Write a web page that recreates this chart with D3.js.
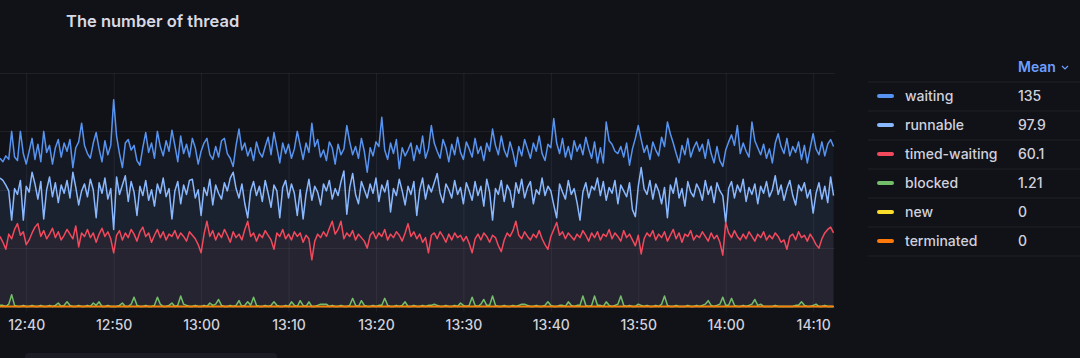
<!DOCTYPE html>
<html>
<head>
<meta charset="utf-8">
<script src="https://cdn.jsdelivr.net/npm/d3@7"></script>
<style>
  body { margin: 0; background: #111217; }
  svg { display: block; font-family: Inter, "Noto Sans", sans-serif; }
</style>
</head>
<body>
<script>
// series names, colors and the legend means
let seriesNames = ["waiting", "runnable", "timed-waiting", "blocked", "new", "terminated"]
let seriesColors = ["#5794f2", "#8ab8ff", "#f2495c", "#73bf69", "#fade2a", "#ff780a"]
let meanLabels = ["135", "97.9", "60.1", "1.21", "0", "0"]

// x ticks
let tickLabels = ["12:40", "12:50", "13:00", "13:10", "13:20", "13:30", "13:40", "13:50", "14:00", "14:10"]
let yTicks = [0, 50, 100, 150, 200]

// samples every 20s starting at 12:37:00
let startTime = "12:37:00"
let stepSeconds = 20

let waiting = [
  127,124,129,126,150,128,125,150,131,122,
  133,144,126,139,124,150,132,138,122,136,
  143,128,140,133,143,119,136,141,157,138,
  131,127,140,149,135,124,142,130,138,177,
  146,131,119,140,143,134,138,125,121,136,
  149,132,140,127,150,137,129,142,133,151,
  138,124,146,131,139,128,144,136,122,133,
  140,144,130,126,137,128,142,144,131,127,
  120,138,152,134,140,129,136,125,141,132,
  128,137,145,130,149,136,123,140,131,139,
  127,135,150,138,126,140,132,157,137,143,
  128,134,125,141,136,122,139,130,135,155,
  141,130,137,127,144,133,115,136,129,141,
  137,162,134,126,140,131,143,118,136,129,
  134,140,125,138,131,146,127,135,155,140,
  133,127,143,136,124,139,130,145,132,126,
  141,135,128,144,131,137,125,140,133,152,
  138,130,146,134,128,141,132,120,137,129,
  143,135,127,140,133,146,131,125,139,136,
  161,140,131,144,128,137,126,142,133,139,
  130,145,135,127,141,123,136,123,158,142,
  139,133,131,137,128,140,121,135,144,155,
  143,132,138,126,141,134,129,145,137,158,
  148,140,131,123,138,130,144,128,136,141,
  133,139,127,143,131,123,137,125,120,134,
  141,147,138,155,131,140,133,128,158,142,
  136,130,139,127,135,123,140,148,137,131,
  144,129,137,132,141,126,138,123,136,148,
  135,130,141,129,139,143,137
]

let runnable = [
  110,108,104,99,74,101,96,108,74,103,
  98,115,105,92,107,75,100,111,94,106,
  89,104,97,108,93,115,102,87,99,105,
  94,109,100,76,106,97,110,92,101,66,
  111,96,104,112,90,107,98,78,103,95,
  108,91,100,86,105,97,110,94,101,75,
  99,107,88,104,96,108,109,93,100,78,
  102,95,109,87,104,97,92,106,99,110,
  115,101,93,105,88,76,99,107,95,103,
  90,108,97,85,104,99,76,102,108,93,
  105,97,78,100,75,96,109,91,103,98,
  87,105,99,108,92,101,95,107,116,79,
  102,114,96,88,107,100,93,105,97,110,
  90,104,98,108,81,101,95,109,99,87,
  103,96,107,78,100,110,92,104,98,106,
  114,97,89,105,100,93,108,96,102,88,
  106,99,91,107,95,103,86,109,98,74,
  101,96,108,90,104,99,85,106,97,109,
  93,102,107,88,100,96,110,95,103,99,
  87,76,105,98,92,108,96,101,89,74,
  98,106,93,103,100,110,95,107,91,102,
  97,108,88,104,99,94,106,83,77,103,
  119,101,96,108,92,105,99,88,102,76,
  104,97,110,93,101,86,107,98,94,105,
  100,91,108,96,103,89,106,99,95,72,
  101,107,93,104,98,109,90,102,96,105,
  88,103,97,107,94,100,112,96,104,91,
  101,108,95,87,104,99,106,93,100,80,
  97,106,92,103,89,111,95
]

let timedWaiting = [
  60,55,49,62,58,66,71,61,64,53,
  57,63,68,71,60,65,58,62,67,59,
  64,57,61,66,62,58,69,51,63,60,
  66,59,63,55,62,67,60,64,58,46,
  61,65,57,63,59,66,62,56,64,68,
  60,63,55,61,66,59,64,57,62,60,
  65,58,63,60,56,64,61,58,53,46,
  62,73,60,65,57,63,59,66,61,55,
  64,59,62,57,66,73,60,63,56,62,
  59,65,61,57,49,63,60,66,58,62,
  57,64,60,63,55,61,58,40,56,62,
  59,64,60,67,73,62,66,73,58,63,
  60,65,57,62,59,56,50,61,64,58,
  63,60,66,57,62,59,64,61,56,63,
  71,60,64,58,62,55,59,46,61,63,
  58,64,60,55,62,57,63,59,61,56,
  60,54,46,58,62,57,63,60,55,61,
  59,52,47,57,63,60,65,73,61,58,
  64,60,57,62,59,65,58,53,49,60,
  66,72,61,64,58,63,60,57,62,59,
  65,61,56,63,59,64,57,62,60,66,
  58,63,60,56,65,59,62,57,52,61,
  45,58,63,60,65,57,62,59,64,56,
  61,66,58,63,55,62,60,65,57,61,
  59,64,60,56,63,58,61,55,44,72,
  63,59,65,60,57,62,58,64,60,56,
  62,59,64,57,61,58,63,60,55,57,
  49,60,62,57,64,59,61,56,62,58,
  53,50,58,63,66,68,63
]

let blocked = [
  1,1,0,2,10,1,0,0,1,0,
  0,1,0,0,1,0,0,1,0,1,
  3,0,1,4,1,0,0,1,0,0,
  1,0,3,1,4,0,0,1,0,0,
  0,1,3,0,0,2,8,1,0,0,
  1,0,0,1,8,2,0,0,1,3,
  0,1,9,2,1,0,0,1,0,0,
  1,0,3,1,2,6,1,0,0,1,
  0,1,5,0,1,4,1,8,1,0,
  0,1,0,1,4,1,0,0,1,0,
  4,1,0,5,1,0,4,0,0,1,
  2,2,2,0,1,0,0,1,0,0,
  1,7,1,0,5,1,0,0,1,0,
  1,1,7,1,0,0,1,0,1,4,
  0,0,1,0,0,1,0,1,1,2,
  1,0,0,1,0,0,1,0,3,1,
  0,1,8,1,0,2,6,1,1,9,
  1,0,0,1,0,0,1,0,1,2,
  2,1,0,0,1,0,0,1,4,1,
  0,0,1,1,0,4,1,0,1,1,
  9,1,0,1,9,1,1,0,4,1,
  0,1,2,9,1,0,1,0,0,2,
  1,0,1,0,0,1,0,2,9,1,
  0,0,1,0,0,0,1,0,0,1,
  0,1,2,5,1,0,1,2,8,1,
  1,7,1,0,0,1,0,1,2,6,
  1,2,0,0,0,0,1,0,0,0,
  0,0,0,1,1,4,1,0,0,1,
  2,0,0,1,0,0,0
]

let newThreads = [
  0,0,0,0,0,0,0,0,0,0,0,0,0,0,0,0,0,0,0,0,0,0,0,0,0,0,0,0,0,0,0,0,0,0,0,0,0,0,0,0,
  0,0,0,0,0,0,0,0,0,0,0,0,0,0,0,0,0,0,0,0,0,0,0,0,0,0,0,0,0,0,0,0,0,0,0,0,0,0,0,0,
  0,0,0,0,0,0,0,0,0,0,0,0,0,0,0,0,0,0,0,0,0,0,0,0,0,0,0,0,0,0,0,0,0,0,0,0,0,0,0,0,
  0,0,0,0,0,0,0,0,0,0,0,0,0,0,0,0,0,0,0,0,0,0,0,0,0,0,0,0,0,0,0,0,0,0,0,0,0,0,0,0,
  0,0,0,0,0,0,0,0,0,0,0,0,0,0,0,0,0,0,0,0,0,0,0,0,0,0,0,0,0,0,0,0,0,0,0,0,0,0,0,0,
  0,0,0,0,0,0,0,0,0,0,0,0,0,0,0,0,0,0,0,0,0,0,0,0,0,0,0,0,0,0,0,0,0,0,0,0,0,0,0,0,
  0,0,0,0,0,0,0,0,0,0,0,0,0,0,0,0,0,0,0,0,0,0,0,0,0,0,0,0,0,0,0,0,0,0,0,0,0,0,0,0,
  0,0,0,0,0,0,0
]

let terminated = [
  0,0,0,0,0,0,0,0,0,0,0,0,0,0,0,0,0,0,0,0,0,0,0,0,0,0,0,0,0,0,0,0,0,0,0,0,0,0,0,0,
  0,0,0,0,0,0,0,0,0,0,0,0,0,0,0,0,0,0,0,0,0,0,0,0,0,0,0,0,0,0,0,0,0,0,0,0,0,0,0,0,
  0,0,0,0,0,0,0,0,0,0,0,0,0,0,0,0,0,0,0,0,0,0,0,0,0,0,0,0,0,0,0,0,0,0,0,0,0,0,0,0,
  0,0,0,0,0,0,0,0,0,0,0,0,0,0,0,0,0,0,0,0,0,0,0,0,0,0,0,0,0,0,0,0,0,0,0,0,0,0,0,0,
  0,0,0,0,0,0,0,0,0,0,0,0,0,0,0,0,0,0,0,0,0,0,0,0,0,0,0,0,0,0,0,0,0,0,0,0,0,0,0,0,
  0,0,0,0,0,0,0,0,0,0,0,0,0,0,0,0,0,0,0,0,0,0,0,0,0,0,0,0,0,0,0,0,0,0,0,0,0,0,0,0,
  0,0,0,0,0,0,0,0,0,0,0,0,0,0,0,0,0,0,0,0,0,0,0,0,0,0,0,0,0,0,0,0,0,0,0,0,0,0,0,0,
  0,0,0,0,0,0,0
]

let seriesValues = [waiting, runnable, timedWaiting, blocked, newThreads, terminated]

// layout
let width = 1080
let height = 358
let plot = {left: 0, right: 835, top: 73, bottom: 306.5}

let parseTime = d3.timeParse("%H:%M:%S")
let parseTick = d3.timeParse("%H:%M")
let t0 = parseTime(startTime)
let timeAt = i => d3.timeSecond.offset(t0, i * stepSeconds)

let x = d3.scaleTime()
  .domain([t0, parseTime("14:12:30")])
  .range([plot.left, plot.right])

let y = d3.scaleLinear()
  .domain([0, 200])
  .range([plot.bottom, plot.top])

let svg = d3.select("body")
  .append("svg")
  .attr("width", width)
  .attr("height", height)

// title
svg.append("text")
  .attr("x", 66)
  .attr("y", 27)
  .attr("fill", "#d8d9e3")
  .attr("font-size", 16.5)
  .attr("font-weight", 600)
  .text("The number of thread")

let gridColor = "rgba(204,204,220,0.08)"

// horizontal grid
svg.append("g")
  .selectAll("line")
  .data(yTicks)
  .enter()
  .append("line")
  .attr("x1", plot.left)
  .attr("x2", plot.right)
  .attr("y1", d => Math.round(y(d)) + 0.5)
  .attr("y2", d => Math.round(y(d)) + 0.5)
  .attr("stroke", gridColor)

// x axis with vertical grid
let tickTimes = tickLabels.map(parseTick)
let xAxis = d3.axisBottom(x)
  .tickValues(tickTimes)
  .tickFormat(d3.timeFormat("%H:%M"))
  .tickSize(plot.bottom - plot.top + 5)
  .tickPadding(9)

let axisG = svg.append("g")
  .attr("transform", "translate(0," + plot.top + ")")
  .call(xAxis)
axisG.select(".domain").remove()
axisG.selectAll(".tick line").attr("stroke", gridColor)
axisG.selectAll(".tick text")
  .attr("fill", "#d0d1dc")
  .attr("font-size", 14)
  .attr("font-weight", 500)
  .attr("font-family", "Inter, sans-serif")

// series
let rows = seriesNames.map((name, k) => ({
  name: name,
  color: seriesColors[k],
  mean: meanLabels[k],
  points: seriesValues[k].map((v, i) => ({t: timeAt(i), v: v}))
}))

let area = d3.area()
  .x(d => x(d.t))
  .y0(y(0))
  .y1(d => y(d.v))

let line = d3.line()
  .x(d => x(d.t))
  .y(d => y(d.v))

let chartG = svg.append("g")

chartG.selectAll(".fill")
  .data(rows)
  .enter()
  .append("path")
  .attr("class", "fill")
  .attr("d", d => area(d.points))
  .attr("fill", d => d.color)
  .attr("fill-opacity", 0.06)

chartG.selectAll(".series")
  .data(rows)
  .enter()
  .append("path")
  .attr("class", "series")
  .attr("d", d => line(d.points))
  .attr("fill", "none")
  .attr("stroke", d => d.color)
  .attr("stroke-width", 1.5)
  .attr("stroke-linejoin", "round")

// scrollbar under the panel
svg.append("rect")
  .attr("x", 25)
  .attr("y", 353)
  .attr("width", 252)
  .attr("height", 10)
  .attr("rx", 4)
  .attr("fill", "#1c1d24")

// legend table
let legend = svg.append("g")
let rowH = 29
let firstRow = 96

legend.append("text")
  .attr("x", 1018)
  .attr("y", 72)
  .attr("fill", "#6e9fff")
  .attr("font-size", 14)
  .attr("font-weight", 600)
  .text("Mean")

legend.append("path")
  .attr("d", "M1062,66 L1065,69 L1068,66")
  .attr("fill", "none")
  .attr("stroke", "#6e9fff")
  .attr("stroke-width", 1.2)

legend.selectAll(".sep")
  .data(d3.range(rows.length + 1))
  .enter()
  .append("line")
  .attr("x1", 868)
  .attr("x2", 1080)
  .attr("y1", i => firstRow - rowH / 2 + i * rowH + 0.5)
  .attr("y2", i => firstRow - rowH / 2 + i * rowH + 0.5)
  .attr("stroke", gridColor)

let item = legend.selectAll(".item")
  .data(rows)
  .enter()
  .append("g")
  .attr("transform", (d, i) => "translate(0," + (firstRow + i * rowH) + ")")

item.append("rect")
  .attr("x", 877)
  .attr("y", -2)
  .attr("width", 17)
  .attr("height", 4)
  .attr("rx", 2)
  .attr("fill", d => d.color)

item.append("text")
  .attr("x", 905)
  .attr("y", 5)
  .attr("fill", "#d0d1dc")
  .attr("font-size", 14)
  .attr("font-weight", 500)
  .text(d => d.name)

item.append("text")
  .attr("x", 1018)
  .attr("y", 5)
  .attr("fill", "#d0d1dc")
  .attr("font-size", 14)
  .attr("font-weight", 500)
  .text(d => d.mean)
</script>
</body>
</html>
